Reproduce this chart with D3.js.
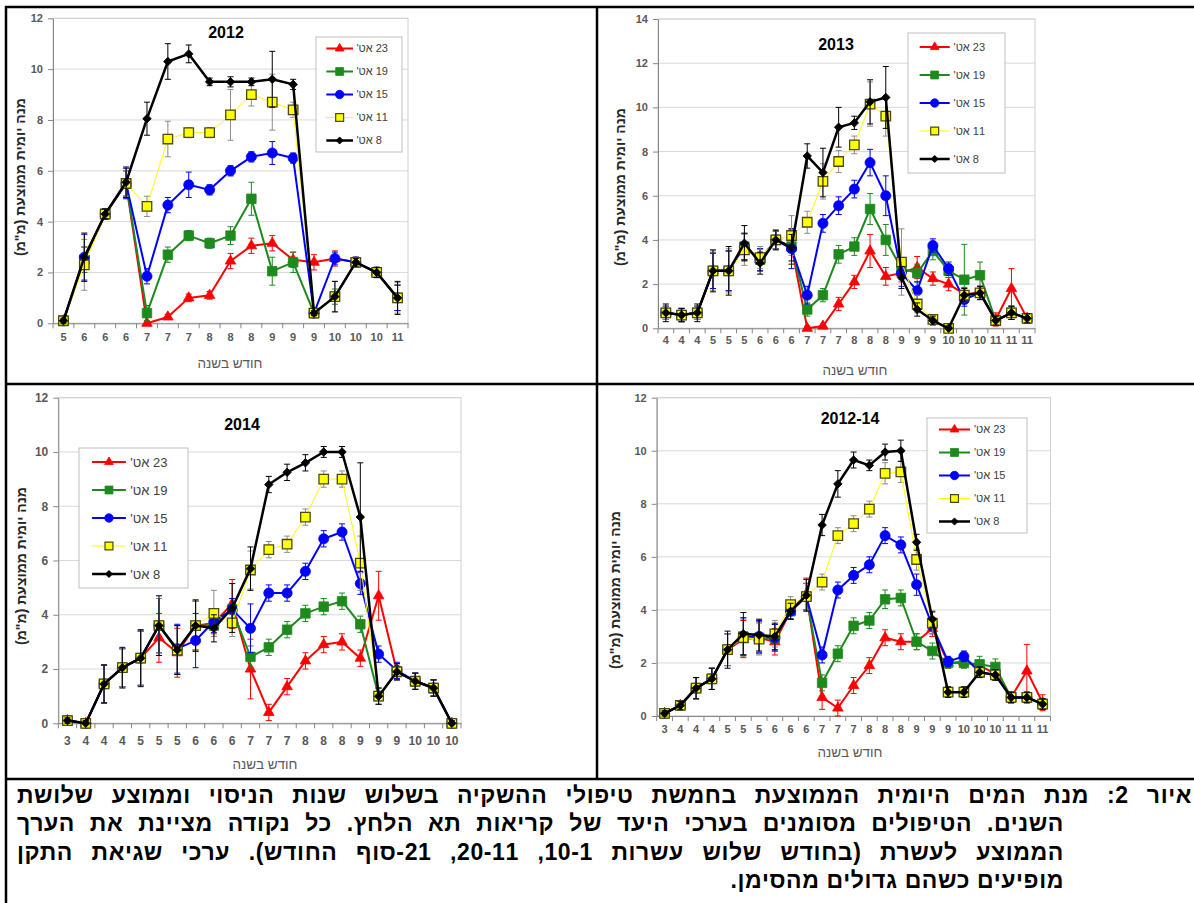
<!DOCTYPE html>
<meta charset="utf-8">
<html>
<head>
  <title>איור 2</title>
  <style>
    body {
      margin: 0;
      width: 1194px;
      height: 903px;
      overflow: hidden;
      position: relative;
      background: #fff;
    }
    svg {
      position: absolute;
      left: 0;
      top: 0;
    }
    .cap {
      position: absolute;
      direction: rtl;
      font-family: "Liberation Sans", "DejaVu Sans", sans-serif;
      font-weight: bold;
      font-size: 23px;
      letter-spacing: 0.6px;
      line-height: 28px;
      white-space: nowrap;
      color: #000;
    }
    .just {
      text-align: justify;
      text-align-last: justify;
    }
  </style>
  <script src="https://d3js.org/d3.v7.min.js"></script>
</head>
<body>

  <svg width="1194" height="903"></svg>

  <script>
    // ---- data ----
    var cats2012 = ["5","6","6","6","7","7","7","8","8","8","9","9","9","10","10","10","11"];
    var s23_2012 = [0.1,2.5,4.3,5.5,0.0,0.25,1.0,1.1,2.45,3.05,3.15,2.5,2.4,2.55,2.4,2.0,1.0];
    var s19_2012 = [0.1,2.5,4.3,5.5,0.4,2.7,3.45,3.15,3.45,4.9,2.05,2.4,0.4,1.05,2.4,2.0,1.0];
    var s15_2012 = [0.1,2.6,4.3,5.5,1.85,4.65,5.45,5.25,6.0,6.55,6.7,6.5,0.4,2.55,2.4,2.0,1.0];
    var s11_2012 = [0.1,2.3,4.3,5.5,4.6,7.25,7.5,7.5,8.2,9.0,8.7,8.4,0.4,1.05,2.4,2.0,1.0];
    var s8_2012  = [0.1,2.6,4.3,5.55,8.05,10.3,10.6,9.5,9.5,9.5,9.6,9.4,0.4,1.05,2.4,2.0,1.0];
    var e23_2012 = [0.1,0.5,0.2,0.5,0.1,0.1,0.15,0.15,0.3,0.3,0.3,0.3,0.3,0.3,0.2,0.2,0.5];
    var e19_2012 = [0.1,0.5,0.2,0.5,0.3,0.3,0.2,0.2,0.35,0.65,0.55,0.4,0.1,0.3,0.2,0.2,0.5];
    var e15_2012 = [0.1,0.9,0.2,0.6,0.3,0.3,0.5,0.2,0.2,0.2,0.45,0.2,0.1,0.25,0.2,0.2,0.5];
    var e11_2012 = [0.1,1.0,0.2,0.5,0.4,0.7,0.2,0.2,1.0,0.45,1.1,0.3,0.1,0.6,0.2,0.2,0.6];
    var e8_2012  = [0.1,0.95,0.2,0.6,0.65,0.7,0.35,0.15,0.2,0.15,1.1,0.2,0.1,0.6,0.15,0.2,0.65];

    var cats2013 = ["4","4","4","5","5","5","6","6","6","7","7","7","8","8","8","9","9","9","10","10","10","11","11","11"];
    var s23_2013 = [0.7,0.6,0.7,2.6,2.6,3.7,3.1,4.0,3.7,0.0,0.1,1.1,2.1,3.5,2.35,2.5,2.75,2.25,2.0,1.55,1.6,0.4,1.8,0.45];
    var s19_2013 = [0.7,0.6,0.7,2.6,2.6,3.7,3.1,4.0,3.7,0.85,1.5,3.35,3.7,5.4,4.0,2.7,2.5,3.5,2.6,2.2,2.4,0.35,0.7,0.45];
    var s15_2013 = [0.7,0.6,0.7,2.6,2.6,3.7,3.1,4.0,3.6,1.5,4.75,5.55,6.3,7.5,6.0,2.5,1.7,3.75,2.7,1.3,1.6,0.35,0.7,0.45];
    var s11_2013 = [0.7,0.6,0.7,2.6,2.6,3.55,3.2,4.0,4.2,4.8,6.65,7.55,8.3,10.15,9.6,3.0,1.1,0.4,0.0,1.5,1.6,0.35,0.7,0.45];
    var s8_2013  = [0.7,0.6,0.7,2.6,2.6,3.85,2.95,4.0,3.65,7.8,7.05,9.1,9.3,10.25,10.45,2.3,0.85,0.35,0.0,1.5,1.6,0.35,0.7,0.45];
    var e23_2013 = [0.3,0.3,0.3,0.8,0.9,0.6,0.5,0.4,0.8,0.1,0.1,0.3,0.3,0.75,0.4,0.4,0.5,0.3,0.3,0.3,0.3,0.3,0.9,0.2];
    var e19_2013 = [0.3,0.3,0.3,0.8,0.9,0.6,0.5,0.4,0.8,0.3,0.3,0.4,0.4,0.7,0.7,0.5,0.4,0.4,0.3,1.6,0.6,0.2,0.3,0.2];
    var e15_2013 = [0.3,0.3,0.3,0.8,0.9,0.6,0.5,0.4,0.9,0.4,0.4,0.4,0.4,0.6,0.9,0.6,0.4,0.3,0.3,0.3,0.3,0.2,0.3,0.2];
    var e11_2013 = [0.3,0.3,0.3,0.9,1.0,0.7,0.5,0.4,0.9,0.5,0.8,0.5,0.4,1.0,0.9,1.5,0.4,0.2,0.1,0.3,0.3,0.2,0.3,0.2];
    var e8_2013  = [0.4,0.3,0.4,0.95,1.1,0.8,0.5,0.45,0.6,0.55,1.1,0.9,0.3,1.0,1.4,0.5,0.3,0.2,0.1,0.3,0.3,0.2,0.3,0.2];

    var cats2014 = ["3","4","4","4","5","5","5","6","6","6","7","7","7","8","8","8","9","9","9","10","10","10"];
    var s23_2014 = [0.1,0.0,1.45,2.05,2.4,3.15,2.6,3.6,3.7,4.4,2.0,0.4,1.35,2.3,2.9,3.0,2.4,4.7,1.9,1.55,1.3,0.0];
    var s19_2014 = [0.1,0.0,1.45,2.05,2.4,3.6,2.7,3.6,3.6,4.2,2.45,2.8,3.45,4.05,4.3,4.5,3.65,1.0,1.9,1.55,1.3,0.0];
    var s15_2014 = [0.1,0.0,1.45,2.05,2.4,3.6,2.75,3.05,3.75,4.2,3.5,4.8,4.8,5.6,6.8,7.05,5.15,2.55,1.95,1.55,1.3,0.0];
    var s11_2014 = [0.1,0.0,1.45,2.05,2.4,3.6,2.7,3.6,4.05,3.7,5.65,6.4,6.6,7.6,9.0,9.0,5.9,1.0,1.9,1.55,1.3,0.0];
    var s8_2014  = [0.1,0.0,1.45,2.05,2.4,3.6,2.7,3.6,3.5,4.25,5.7,8.8,9.25,9.6,10.0,10.0,7.6,1.0,1.9,1.55,1.3,0.0];
    var e23_2014 = [0.1,0.1,0.7,0.7,1.0,0.9,0.9,0.9,0.4,0.9,1.1,0.3,0.3,0.3,0.3,0.3,0.3,0.9,0.3,0.3,0.3,0.1];
    var e19_2014 = [0.1,0.1,0.7,0.7,1.0,1.0,0.9,0.9,0.4,0.4,0.4,0.3,0.3,0.3,0.3,0.3,0.3,0.3,0.3,0.3,0.3,0.1];
    var e15_2014 = [0.1,0.1,0.7,0.7,1.0,1.0,0.9,1.0,0.4,0.4,0.9,0.3,0.3,0.3,0.3,0.3,0.4,0.3,0.3,0.3,0.3,0.1];
    var e11_2014 = [0.1,0.1,0.7,0.7,1.0,1.0,0.9,0.9,0.85,0.5,0.7,0.3,0.3,0.3,0.3,0.3,1.0,0.3,0.3,0.3,0.3,0.1];
    var e8_2014  = [0.1,0.1,0.7,0.75,1.05,1.1,0.9,0.95,0.5,0.9,0.8,0.3,0.3,0.3,0.2,0.2,2.0,0.3,0.3,0.3,0.3,0.1];

    var catsAll = ["3","4","4","4","5","5","5","6","6","6","7","7","7","8","8","8","9","9","9","10","10","10","11","11","11"];
    var s23_all = [0.1,0.4,1.05,1.4,2.5,2.9,2.95,2.8,3.95,4.6,0.7,0.3,1.15,1.9,2.95,2.8,2.8,3.3,2.0,2.05,1.9,1.6,0.7,1.7,0.5];
    var s19_all = [0.1,0.4,1.05,1.4,2.5,3.0,2.95,2.95,3.95,4.5,1.25,2.35,3.4,3.6,4.4,4.45,2.8,2.45,2.0,2.0,1.95,1.85,0.7,0.7,0.45];
    var s15_all = [0.1,0.4,1.05,1.4,2.5,3.0,3.0,2.95,3.95,4.5,2.3,4.75,5.3,5.7,6.8,6.45,4.95,3.4,2.05,2.25,1.65,1.55,0.7,0.7,0.45];
    var s11_all = [0.1,0.4,1.05,1.4,2.5,2.95,2.9,3.1,4.2,4.5,5.05,6.8,7.25,7.8,9.15,9.2,5.9,3.5,0.9,0.9,1.65,1.55,0.7,0.7,0.45];
    var s8_all  = [0.1,0.4,1.05,1.4,2.5,3.1,3.05,3.0,3.95,4.55,7.2,8.75,9.65,9.45,9.95,10.0,6.55,3.65,0.9,0.9,1.65,1.55,0.7,0.7,0.45];
    var e23_all = [0.1,0.15,0.4,0.4,0.6,0.7,0.6,0.5,0.3,0.6,0.45,0.3,0.3,0.3,0.3,0.3,0.3,0.3,0.2,0.2,0.2,0.2,0.2,1.0,0.3];
    var e19_all = [0.1,0.15,0.4,0.4,0.6,0.7,0.6,0.5,0.3,0.5,0.3,0.3,0.3,0.3,0.35,0.3,0.3,0.3,0.2,0.2,0.3,0.3,0.2,0.2,0.2];
    var e15_all = [0.1,0.15,0.4,0.4,0.6,0.7,0.6,0.5,0.3,0.5,0.3,0.3,0.3,0.3,0.3,0.3,0.4,0.3,0.2,0.2,0.2,0.2,0.2,0.2,0.2];
    var e11_all = [0.1,0.15,0.4,0.4,0.6,0.7,0.6,0.5,0.3,0.5,0.3,0.3,0.3,0.3,0.4,0.4,0.4,0.4,0.2,0.2,0.2,0.2,0.2,0.2,0.2];
    var e8_all  = [0.1,0.15,0.4,0.4,0.7,0.8,0.6,0.5,0.3,0.6,0.4,0.5,0.3,0.2,0.3,0.4,0.3,0.3,0.2,0.2,0.2,0.2,0.2,0.2,0.2];

    var seriesNames = ["23 אט'", "19 אט'", "15 אט'", "11 אט'", "8 אט'"];
    var xTitle = "חודש בשנה";
    var yTitle = "מנה יומית ממוצעת (מ\"מ)";
    var captionLines = [
      "איור 2: מנת המים היומית הממוצעת בחמשת טיפולי ההשקיה בשלוש שנות הניסוי וממוצע שלושת",
      "השנים. הטיפולים מסומנים בערכי היעד של קריאות תא הלחץ. כל נקודה מציינת את הערך",
      "הממוצע לעשרת (בחודש שלוש עשרות 10-1, 20-11, 21-סוף החודש). ערכי שגיאת התקן",
      "מופיעים כשהם גדולים מהסימן."
    ];

    // ---- styles for the five treatments ----
    var styles = [
      {color: "#ff0000", width: 2, symbol: d3.symbolTriangle, size: 48, fill: "#ff0000", stroke: "#ff0000", err: "#ff0000"},
      {color: "#1e8a1e", width: 2, symbol: d3.symbolSquare, size: 90, fill: "#1e8a1e", stroke: "#1e8a1e", err: "#1e8a1e"},
      {color: "#0000ff", width: 2, symbol: d3.symbolCircle, size: 80, fill: "#0000ff", stroke: "#0000ff", err: "#0000ff"},
      {color: "#ffff00", width: 1, symbol: d3.symbolSquare, size: 90, fill: "#ffff00", stroke: "#4a4a10", err: "#8c8c8c"},
      {color: "#000000", width: 2.5, symbol: d3.symbolSquare, size: 36, fill: "#000000", stroke: "#000000", err: "#000000", rotate: 45}
    ];

    var FONT = "'Liberation Sans', Arial, sans-serif";

    var panels = [
      {title: "2012", cats: cats2012, yMax: 12,
       values: [s23_2012, s19_2012, s15_2012, s11_2012, s8_2012],
       errors: [e23_2012, e19_2012, e15_2012, e11_2012, e8_2012],
       left: 53, right: 408, top: 18.3, bottom: 323.3,
       tickFont: 11, labelOff: 18, titleX: 226, titleY: 32, titleFont: 16,
       xTitleX: 230, xTitleY: 363, yTitleX: 20, yTitleY: 177,
       legend: {x: 316, y: 37, w: 86, h: 115, font: 11}},
      {title: "2013", cats: cats2013, yMax: 14,
       values: [s23_2013, s19_2013, s15_2013, s11_2013, s8_2013],
       errors: [e23_2013, e19_2013, e15_2013, e11_2013, e8_2013],
       left: 658, right: 1035, top: 19, bottom: 328.3,
       tickFont: 11, labelOff: 16, titleX: 836, titleY: 44, titleFont: 16,
       xTitleX: 855, xTitleY: 370, yTitleX: 620, yTitleY: 187,
       legend: {x: 908, y: 33, w: 97, h: 140, font: 11}},
      {title: "2014", cats: cats2014, yMax: 12,
       values: [s23_2014, s19_2014, s15_2014, s11_2014, s8_2014],
       errors: [e23_2014, e19_2014, e15_2014, e11_2014, e8_2014],
       left: 58.3, right: 461, top: 397.7, bottom: 723.3,
       tickFont: 12, labelOff: 22, titleX: 242, titleY: 424, titleFont: 16,
       xTitleX: 265, xTitleY: 764, yTitleX: 21, yTitleY: 566,
       legend: {x: 79, y: 448, w: 109, h: 140, font: 13}},
      {title: "2012-14", cats: catsAll, yMax: 12,
       values: [s23_all, s19_all, s15_all, s11_all, s8_all],
       errors: [e23_all, e19_all, e15_all, e11_all, e8_all],
       left: 656.7, right: 1050.5, top: 397.7, bottom: 716,
       tickFont: 11, labelOff: 17, titleX: 850, titleY: 418, titleFont: 16,
       xTitleX: 850, xTitleY: 752, yTitleX: 615, yTitleY: 590,
       legend: {x: 927, y: 418, w: 100, h: 115, font: 11}}
    ];

    var svg = d3.select("svg");

    // table frame
    var frame = svg.append("g").attr("stroke", "#000").attr("stroke-width", 2.5);
    frame.append("line").attr("x1", 5).attr("x2", 1194).attr("y1", 7).attr("y2", 7);
    frame.append("line").attr("x1", 6).attr("x2", 6).attr("y1", 6).attr("y2", 903);
    frame.append("line").attr("x1", 597).attr("x2", 597).attr("y1", 7).attr("y2", 779);
    frame.append("line").attr("x1", 5).attr("x2", 1194).attr("y1", 384).attr("y2", 384);
    frame.append("line").attr("x1", 5).attr("x2", 1194).attr("y1", 779).attr("y2", 779);

    panels.forEach(drawPanel);

    function drawPanel(p) {
      var n = p.cats.length;
      var x = d3.scaleBand().domain(d3.range(n)).range([p.left, p.right]);
      var y = d3.scaleLinear().domain([0, p.yMax]).range([p.bottom, p.top]);
      var cx = function(i) { return x(i) + x.bandwidth() / 2; };
      var ticks = d3.range(0, p.yMax + 1, 2);
      var g = svg.append("g");

      // gridlines and plot frame
      g.selectAll(".grid").data(ticks).enter().append("line")
        .attr("x1", p.left).attr("x2", p.right)
        .attr("y1", y).attr("y2", y)
        .attr("stroke", "#d9d9d9");
      g.append("rect")
        .attr("x", p.left).attr("y", p.top)
        .attr("width", p.right - p.left).attr("height", p.bottom - p.top)
        .attr("fill", "none").attr("stroke", "#d0d0d0");

      // y axis
      var ya = g.append("g")
        .attr("transform", "translate(" + p.left + ",0)")
        .call(d3.axisLeft(y).tickValues(ticks).tickSize(5).tickSizeOuter(0).tickPadding(5));
      ya.select(".domain").attr("stroke", "#868686");
      ya.selectAll(".tick line").attr("stroke", "#868686");
      ya.selectAll("text")
        .attr("font-family", FONT).attr("font-weight", "bold")
        .attr("font-size", p.tickFont).attr("fill", "#595959");

      // x axis, labels centred in each category
      var xa = g.append("g")
        .attr("transform", "translate(0," + p.bottom + ")")
        .call(d3.axisBottom(x).tickSize(0).tickSizeOuter(0)
          .tickPadding(p.labelOff - p.tickFont * 0.7)
          .tickFormat(function(i) { return p.cats[i]; }));
      xa.select(".domain").attr("stroke", "#868686");
      xa.selectAll("text")
        .attr("font-family", FONT).attr("font-weight", "bold")
        .attr("font-size", p.tickFont).attr("fill", "#595959");
      // tick marks between categories
      g.selectAll(".xtick").data(d3.range(n + 1)).enter().append("line")
        .attr("x1", function(i) { return i < n ? x(i) : p.right; })
        .attr("x2", function(i) { return i < n ? x(i) : p.right; })
        .attr("y1", p.bottom).attr("y2", p.bottom + 5)
        .attr("stroke", "#868686");

      // titles
      g.append("text")
        .attr("x", p.titleX).attr("y", p.titleY).attr("dy", "0.35em")
        .attr("text-anchor", "middle")
        .attr("font-family", FONT).attr("font-weight", "bold")
        .attr("font-size", p.titleFont).attr("fill", "#000")
        .text(p.title);
      g.append("text")
        .attr("x", p.xTitleX).attr("y", p.xTitleY).attr("dy", "0.35em")
        .attr("text-anchor", "middle").style("direction", "rtl")
        .attr("font-family", FONT).attr("font-size", 13.5).attr("fill", "#595959")
        .text(xTitle);
      g.append("text")
        .attr("transform", "translate(" + p.yTitleX + "," + p.yTitleY + ") rotate(-90)")
        .attr("dy", "0.35em")
        .attr("text-anchor", "middle").style("direction", "rtl")
        .attr("font-family", FONT).attr("font-weight", "bold")
        .attr("font-size", 14).attr("fill", "#262626")
        .text(yTitle);

      // series: 23 first, 8 last (on top)
      p.values.forEach(function(vals, k) {
        var st = styles[k];
        var pts = vals.map(function(v, i) { return {i: i, v: v, e: p.errors[k][i]}; });
        var sg = g.append("g");

        var eb = sg.append("g").attr("stroke", st.err).attr("stroke-width", 1);
        eb.selectAll(".ev").data(pts).enter().append("line")
          .attr("x1", function(d) { return cx(d.i); })
          .attr("x2", function(d) { return cx(d.i); })
          .attr("y1", function(d) { return y(Math.max(0, d.v - d.e)); })
          .attr("y2", function(d) { return y(d.v + d.e); });
        eb.selectAll(".et").data(pts).enter().append("line")
          .attr("x1", function(d) { return cx(d.i) - 3; })
          .attr("x2", function(d) { return cx(d.i) + 3; })
          .attr("y1", function(d) { return y(d.v + d.e); })
          .attr("y2", function(d) { return y(d.v + d.e); });
        eb.selectAll(".eb").data(pts).enter().append("line")
          .attr("x1", function(d) { return cx(d.i) - 3; })
          .attr("x2", function(d) { return cx(d.i) + 3; })
          .attr("y1", function(d) { return y(Math.max(0, d.v - d.e)); })
          .attr("y2", function(d) { return y(Math.max(0, d.v - d.e)); });

        sg.append("path")
          .datum(pts)
          .attr("fill", "none")
          .attr("stroke", st.color)
          .attr("stroke-width", st.width)
          .attr("stroke-linejoin", "round")
          .attr("d", d3.line().x(function(d) { return cx(d.i); }).y(function(d) { return y(d.v); }));

        sg.selectAll(".mk").data(pts).enter().append("path")
          .attr("d", d3.symbol().type(st.symbol).size(st.size))
          .attr("transform", function(d) {
            return "translate(" + cx(d.i) + "," + y(d.v) + ")" + (st.rotate ? " rotate(" + st.rotate + ")" : "");
          })
          .attr("fill", st.fill)
          .attr("stroke", st.stroke)
          .attr("stroke-width", k === 3 ? 1.3 : 0.8);
      });

      // legend
      var L = p.legend;
      var lg = g.append("g");
      lg.append("rect")
        .attr("x", L.x).attr("y", L.y).attr("width", L.w).attr("height", L.h)
        .attr("fill", "#fff").attr("stroke", "#bfbfbf");
      var rowH = L.h / seriesNames.length;
      seriesNames.forEach(function(name, k) {
        var st = styles[k];
        var ry = L.y + rowH * (k + 0.5);
        var x1 = L.x + L.w * 0.12, x2 = L.x + L.w * 0.43;
        lg.append("line")
          .attr("x1", x1).attr("x2", x2).attr("y1", ry).attr("y2", ry)
          .attr("stroke", st.color).attr("stroke-width", st.width);
        lg.append("path")
          .attr("d", d3.symbol().type(st.symbol).size(st.size * 0.7))
          .attr("transform", "translate(" + (x1 + x2) / 2 + "," + ry + ")" + (st.rotate ? " rotate(" + st.rotate + ")" : ""))
          .attr("fill", st.fill).attr("stroke", st.stroke)
          .attr("stroke-width", k === 3 ? 1.2 : 0.8);
        lg.append("text")
          .attr("x", L.x + L.w * 0.47).attr("y", ry).attr("dy", "0.35em")
          .attr("text-anchor", "end").style("direction", "rtl")
          .attr("font-family", FONT).attr("font-size", L.font).attr("fill", "#404040")
          .text(name);
      });
    }

    // caption (right-to-left paragraph with a hanging first line)
    d3.select("body").selectAll("div.cap").data(captionLines).enter().append("div")
      .attr("class", function(d, i) { return i < 3 ? "cap just" : "cap"; })
      .style("top", function(d, i) { return (781 + i * 28.3) + "px"; })
      .style("left", "17px")
      .style("width", function(d, i) { return i === 0 ? "1175px" : "1047px"; })
      .style("text-align", function(d, i) { return i === 3 ? "right" : null; })
      .text(function(d) { return d; });
  </script>
</body>
</html>
